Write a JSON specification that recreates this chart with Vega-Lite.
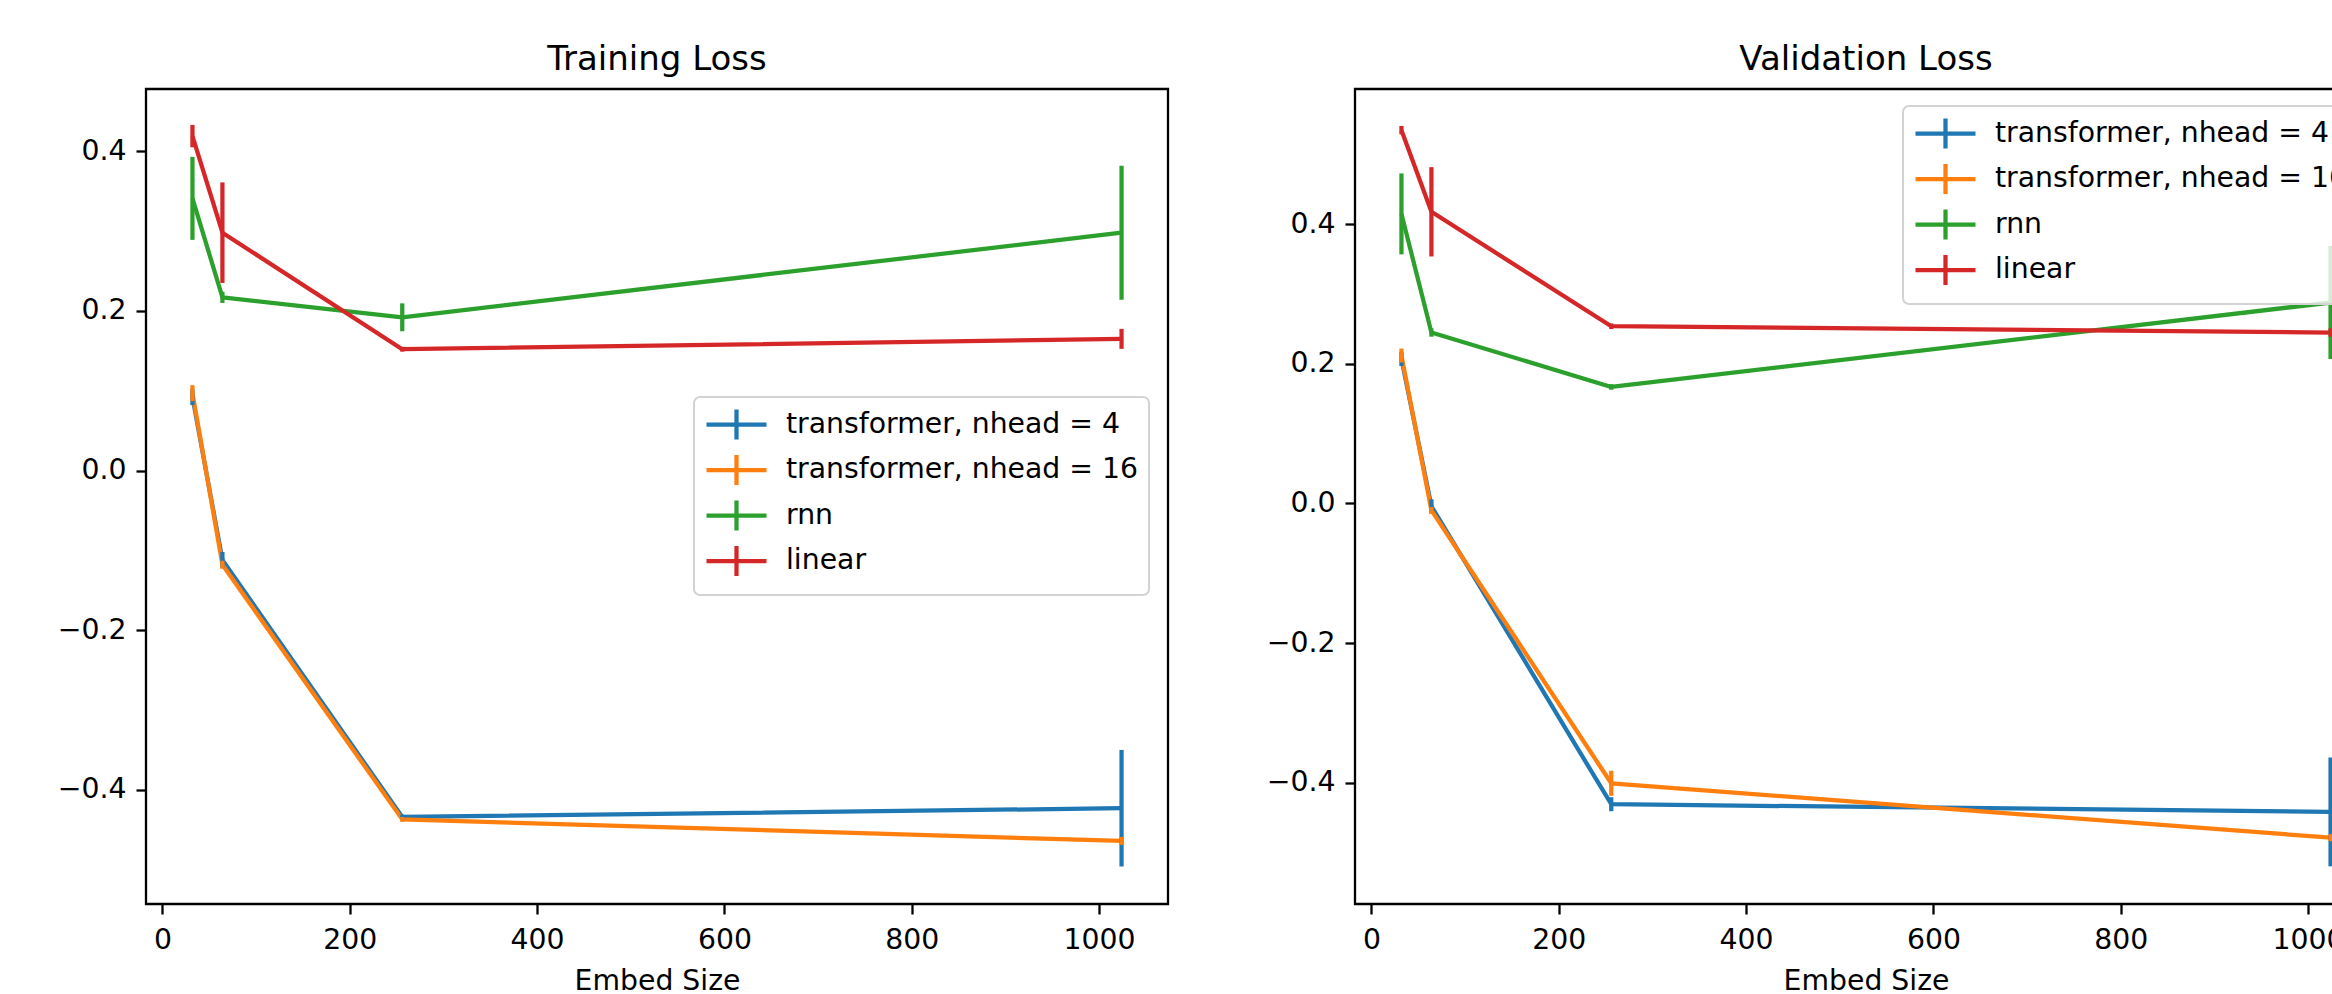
{
  "$schema": "https://vega.github.io/schema/vega-lite/v6.json",
  "padding": {"left": 56, "top": 41, "right": 0, "bottom": 0},
  "autosize": {"type": "pad"},
  "background": "white",
  "config": {
    "view": {"stroke": "black", "strokeWidth": 2.3},
    "axis": {"domain": false, "grid": false, "labelFont": "DejaVu Sans", "labelFontSize": 28.3, "labelColor": "black", "tickColor": "black", "tickWidth": 2.3, "tickSize": 10, "labelPadding": 10, "titleFont": "DejaVu Sans", "titleFontSize": 28.3, "titleFontWeight": "normal", "titleColor": "black"},
    "title": {"font": "DejaVu Sans", "fontSize": 34, "fontWeight": "normal", "color": "black", "anchor": "middle", "baseline": "alphabetic", "offset": 12},
    "concat": {"spacing": 95}
  },
  "datasets": {
    "train": [
      {"model": "transformer, nhead = 4", "size": 32, "y": 0.092, "lo": 0.082, "hi": 0.102},
      {"model": "transformer, nhead = 4", "size": 64, "y": -0.112, "lo": -0.122, "hi": -0.102},
      {"model": "transformer, nhead = 4", "size": 256, "y": -0.434, "lo": -0.437, "hi": -0.431},
      {"model": "transformer, nhead = 4", "size": 1024, "y": -0.423, "lo": -0.496, "hi": -0.350},
      {"model": "transformer, nhead = 16", "size": 32, "y": 0.097, "lo": 0.087, "hi": 0.107},
      {"model": "transformer, nhead = 16", "size": 64, "y": -0.118, "lo": -0.123, "hi": -0.113},
      {"model": "transformer, nhead = 16", "size": 256, "y": -0.437, "lo": -0.440, "hi": -0.434},
      {"model": "transformer, nhead = 16", "size": 1024, "y": -0.464, "lo": -0.469, "hi": -0.459},
      {"model": "rnn", "size": 32, "y": 0.341, "lo": 0.289, "hi": 0.393},
      {"model": "rnn", "size": 64, "y": 0.217, "lo": 0.210, "hi": 0.224},
      {"model": "rnn", "size": 256, "y": 0.192, "lo": 0.1745, "hi": 0.2095},
      {"model": "rnn", "size": 1024, "y": 0.298, "lo": 0.214, "hi": 0.382},
      {"model": "linear", "size": 32, "y": 0.419, "lo": 0.405, "hi": 0.433},
      {"model": "linear", "size": 64, "y": 0.298, "lo": 0.235, "hi": 0.361},
      {"model": "linear", "size": 256, "y": 0.152, "lo": 0.149, "hi": 0.155},
      {"model": "linear", "size": 1024, "y": 0.165, "lo": 0.1525, "hi": 0.1775}
    ],
    "val": [
      {"model": "transformer, nhead = 4", "size": 32, "y": 0.207, "lo": 0.197, "hi": 0.217},
      {"model": "transformer, nhead = 4", "size": 64, "y": -0.004, "lo": -0.014, "hi": 0.006},
      {"model": "transformer, nhead = 4", "size": 256, "y": -0.431, "lo": -0.441, "hi": -0.421},
      {"model": "transformer, nhead = 4", "size": 1024, "y": -0.442, "lo": -0.520, "hi": -0.364},
      {"model": "transformer, nhead = 16", "size": 32, "y": 0.212, "lo": 0.202, "hi": 0.222},
      {"model": "transformer, nhead = 16", "size": 64, "y": -0.010, "lo": -0.015, "hi": -0.005},
      {"model": "transformer, nhead = 16", "size": 256, "y": -0.401, "lo": -0.419, "hi": -0.383},
      {"model": "transformer, nhead = 16", "size": 1024, "y": -0.479, "lo": -0.484, "hi": -0.474},
      {"model": "rnn", "size": 32, "y": 0.415, "lo": 0.357, "hi": 0.473},
      {"model": "rnn", "size": 64, "y": 0.245, "lo": 0.239, "hi": 0.251},
      {"model": "rnn", "size": 256, "y": 0.167, "lo": 0.163, "hi": 0.171},
      {"model": "rnn", "size": 1024, "y": 0.288, "lo": 0.207, "hi": 0.369},
      {"model": "linear", "size": 32, "y": 0.535, "lo": 0.529, "hi": 0.541},
      {"model": "linear", "size": 64, "y": 0.418, "lo": 0.354, "hi": 0.482},
      {"model": "linear", "size": 256, "y": 0.254, "lo": 0.250, "hi": 0.258},
      {"model": "linear", "size": 1024, "y": 0.245, "lo": 0.239, "hi": 0.251}
    ]
  },
  "hconcat": [
    {
      "width": 1022, "height": 815,
      "title": "Training Loss",
      "data": {"name": "train"},
      "encoding": {
        "x": {"field": "size", "type": "quantitative", "scale": {"domain": [-17.6, 1073.6], "nice": false, "zero": false}, "axis": {"values": [0, 200, 400, 600, 800, 1000], "format": "d", "labelPadding": 12, "title": "Embed Size", "titlePadding": 14}},
        "color": {"field": "model", "type": "nominal",
          "scale": {"domain": ["transformer, nhead = 4", "transformer, nhead = 16", "rnn", "linear"], "range": ["#1f77b4", "#ff7f0e", "#2ca02c", "#d62728"]},
          "legend": {"orient": "none", "legendX": 548, "legendY": 308, "title": null, "symbolType": "M-1,0H3M1,-1V1", "symbolSize": 900, "symbolStrokeWidth": 4.25, "symbolFillColor": "transparent", "symbolOpacity": 1, "labelFont": "DejaVu Sans", "labelFontSize": 28.3, "labelColor": "black", "labelOffset": 47, "labelLimit": 1000, "rowPadding": -1.5, "padding": 10, "cornerRadius": 6, "strokeColor": "#d3d3d3", "fillColor": "rgba(255,255,255,0.8)", "encode": {"legend": {"update": {"strokeWidth": {"value": 2}}}}}
        }
      },
      "layer": [
        {"mark": {"type": "line", "strokeWidth": 4.25, "strokeJoin": "round"},
         "encoding": {"y": {"field": "y", "type": "quantitative", "scale": {"domain": [-0.543, 0.478], "nice": false, "zero": false}, "axis": {"values": [-0.4, -0.2, 0, 0.2, 0.4], "format": ".1f", "title": null}}}},
        {"mark": {"type": "rule", "strokeWidth": 4.25},
         "encoding": {"y": {"field": "lo", "type": "quantitative", "axis": {"values": [-0.4, -0.2, 0, 0.2, 0.4], "format": ".1f", "title": null}}, "y2": {"field": "hi"}}}
      ]
    },
    {
      "width": 1022, "height": 815,
      "title": "Validation Loss",
      "data": {"name": "val"},
      "encoding": {
        "x": {"field": "size", "type": "quantitative", "scale": {"domain": [-17.6, 1073.6], "nice": false, "zero": false}, "axis": {"values": [0, 200, 400, 600, 800, 1000], "format": "d", "labelPadding": 12, "title": "Embed Size", "titlePadding": 14}},
        "color": {"field": "model", "type": "nominal",
          "scale": {"domain": ["transformer, nhead = 4", "transformer, nhead = 16", "rnn", "linear"], "range": ["#1f77b4", "#ff7f0e", "#2ca02c", "#d62728"]},
          "legend": {"orient": "none", "legendX": 548, "legendY": 17, "title": null, "symbolType": "M-1,0H3M1,-1V1", "symbolSize": 900, "symbolStrokeWidth": 4.25, "symbolFillColor": "transparent", "symbolOpacity": 1, "labelFont": "DejaVu Sans", "labelFontSize": 28.3, "labelColor": "black", "labelOffset": 47, "labelLimit": 1000, "rowPadding": -1.5, "padding": 10, "cornerRadius": 6, "strokeColor": "#d3d3d3", "fillColor": "rgba(255,255,255,0.8)", "encode": {"legend": {"update": {"strokeWidth": {"value": 2}}}}}
        }
      },
      "layer": [
        {"mark": {"type": "line", "strokeWidth": 4.25, "strokeJoin": "round"},
         "encoding": {"y": {"field": "y", "type": "quantitative", "scale": {"domain": [-0.574, 0.594], "nice": false, "zero": false}, "axis": {"values": [-0.4, -0.2, 0, 0.2, 0.4], "format": ".1f", "title": null}}}},
        {"mark": {"type": "rule", "strokeWidth": 4.25},
         "encoding": {"y": {"field": "lo", "type": "quantitative", "axis": {"values": [-0.4, -0.2, 0, 0.2, 0.4], "format": ".1f", "title": null}}, "y2": {"field": "hi"}}}
      ]
    }
  ],
  "resolve": {"legend": {"color": "independent"}, "scale": {"x": "independent", "y": "independent"}}
}
